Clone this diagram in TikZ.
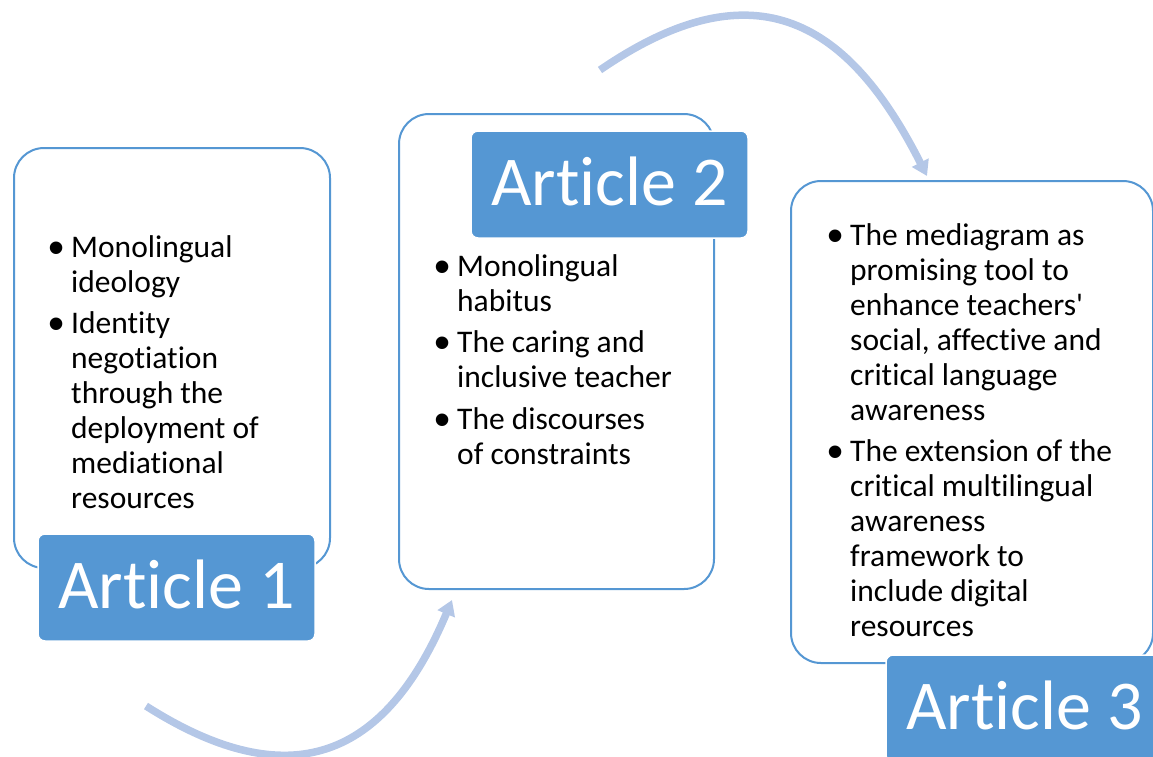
\documentclass[tikz,border=0pt]{standalone}
\usepackage{fontspec}
\setmainfont{Carlito}[Ligatures=NoCommon]
\newfontfamily\bulletfont{Liberation Sans}
\usetikzlibrary{arrows.meta}
\definecolor{accent}{HTML}{5597D3}
\definecolor{flow}{HTML}{B4C7E7}
% list bullet, larger than the text face provides
\newcommand\blt{\raisebox{-6pt}{\bulletfont\fontsize{46}{35}\selectfont\textbullet}}
\begin{document}
\begin{tikzpicture}[x=1pt,y=-1pt,
  card/.style={draw=accent, line width=2pt, fill=white, rounded corners=30pt,
    anchor=north west, inner sep=0pt},
  tag/.style={fill=accent, draw=white, line width=1.5pt, rounded corners=7pt,
    minimum width=277pt, minimum height=107pt, inner sep=0pt, text=white,
    font=\fontsize{70}{84}\selectfont, text height=42pt, text depth=0pt},
  points/.style={anchor=base west, inner sep=0pt, align=left,
    font=\fontsize{31.5}{35}\selectfont},
  cycle arrow/.style={draw=flow, line width=7.5pt,
    -{Triangle[width=18pt,length=15pt]}}
]
\clip (0,0) rectangle (1153,756);

% curved arrows linking the articles
\coordinate (a1s) at (146,706);
\coordinate (a1e) at (452,600);
\draw[cycle arrow] (a1s) .. controls (290.5,798) and (385.7,758) .. (a1e);
\coordinate (a2s) at (600,70);
\coordinate (a2e) at (927,176);
\draw[cycle arrow] (a2s) .. controls (757.7,-38.3) and (850.5,24.7) .. (a2e);

% content cards
\node[card, minimum width=316pt, minimum height=420pt] (box1) at (13,147) {};
\node[card, minimum width=315pt, minimum height=475pt] (box2) at (398,113) {};
\node[card, minimum width=362pt, minimum height=482pt] (box3) at (790,180) {};

% bullet lists
\node[points] (list1) at (48,257) {\begin{tabular}[t]{@{}p{23pt}@{}l@{}}
\blt & Monolingual\\
     & ideology\\[6.5pt]
\blt & Identity\\
     & negotiation\\
     & through the\\
     & deployment of\\
     & mediational\\
     & resources
\end{tabular}};

\node[points] (list2) at (434,276) {\begin{tabular}[t]{@{}p{23pt}@{}l@{}}
\blt & Monolingual\\
     & habitus\\[6.5pt]
\blt & The caring and\\
     & inclusive teacher\\[6.5pt]
\blt & The discourses\\
     & of constraints
\end{tabular}};

\node[points] (list3) at (827,245) {\begin{tabular}[t]{@{}p{23pt}@{}l@{}}
\blt & The mediagram as\\
     & promising tool to\\
     & enhance teachers\textquotesingle\\
     & social, affective and\\
     & critical language\\
     & awareness\\[6.5pt]
\blt & The extension of the\\
     & critical multilingual\\
     & awareness\\
     & framework to\\
     & include digital\\
     & resources
\end{tabular}};

% article labels
\node[tag] (tag1) at (176.5,587.5) {Article 1};
\node[tag] (tag2) at (609.5,184.5) {Article 2};
\node[tag] (tag3) at (1024.5,708.5) {Article 3};
\end{tikzpicture}
\end{document}
